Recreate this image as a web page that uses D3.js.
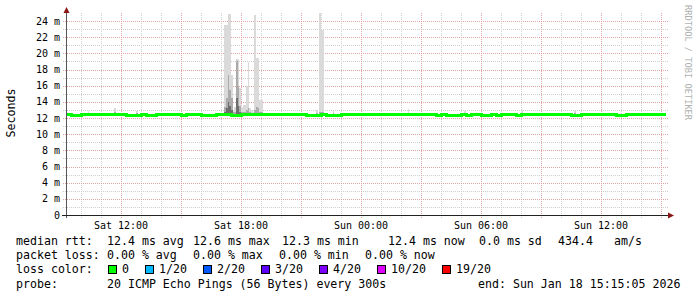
<!DOCTYPE html>
<html>
<head>
<meta charset="utf-8">
<script src="https://cdn.jsdelivr.net/npm/d3@7"></script>
<style>
  body { margin: 0; background: #fff; }
  text { font-family: "DejaVu Sans Mono", monospace; white-space: pre; }
</style>
</head>
<body>
<div id="chart"></div>
<script>
var width = 697,
    height = 297;

// plot box
var x0 = 66, x1 = 666, yTop = 13, yBot = 215;

var startTime = "2026-01-17 09:15";
var endTime = "2026-01-18 15:15";

// median rtt (ms), one value every 15 minutes from startTime
var medianStepMin = 15;
var medianValues = [
  12.4, 12.3, 12.3, 12.4, 12.4, 12.4, 12.4, 12.4, 12.4, 12.4, 12.4, 12.4,
  12.3, 12.3, 12.3, 12.4, 12.3, 12.3, 12.4, 12.4, 12.4, 12.4, 12.4, 12.3,
  12.5, 12.4, 12.4, 12.3, 12.3, 12.3, 12.4, 12.4, 12.4, 12.3, 12.3, 12.4,
  12.4, 12.4, 12.4, 12.4, 12.4, 12.4, 12.4, 12.4, 12.4, 12.4, 12.4, 12.4,
  12.3, 12.3, 12.3, 12.4, 12.3, 12.3, 12.3, 12.5, 12.4, 12.4, 12.4, 12.4,
  12.4, 12.4, 12.5, 12.4, 12.4, 12.4, 12.4, 12.4, 12.4, 12.4, 12.4, 12.4,
  12.4, 12.4, 12.3, 12.4, 12.3, 12.3, 12.3, 12.4, 12.3, 12.4, 12.5, 12.3,
  12.3, 12.4, 12.3, 12.4, 12.4, 12.4, 12.3, 12.4, 12.4, 12.4, 12.4, 12.4,
  12.4, 12.4, 12.4, 12.4, 12.4, 12.3, 12.3, 12.4, 12.4, 12.4, 12.4, 12.4,
  12.4, 12.4, 12.3, 12.3, 12.4, 12.4, 12.4, 12.4, 12.4, 12.4, 12.4, 12.4
];

// smoke (ping spread), 5 minute steps: time, outer max, mid band top, inner band top (ms)
var smokeStepMin = 5;
var smokeBase = 12.3;
var smokeTimes = [
  "2026-01-17 10:20", "2026-01-17 11:40", "2026-01-17 12:45",
  "2026-01-17 17:10", "2026-01-17 17:15", "2026-01-17 17:20", "2026-01-17 17:25", "2026-01-17 17:30",
  "2026-01-17 17:35", "2026-01-17 17:40", "2026-01-17 17:45", "2026-01-17 17:50",
  "2026-01-17 17:55", "2026-01-17 18:00", "2026-01-17 18:05", "2026-01-17 18:10",
  "2026-01-17 18:15", "2026-01-17 18:20", "2026-01-17 18:25", "2026-01-17 18:30",
  "2026-01-17 18:35", "2026-01-17 18:40", "2026-01-17 18:45", "2026-01-17 18:50",
  "2026-01-17 18:55", "2026-01-17 19:00",
  "2026-01-17 21:45", "2026-01-17 21:55", "2026-01-17 22:00", "2026-01-17 22:05",
  "2026-01-17 22:35", "2026-01-18 02:20", "2026-01-18 05:10", "2026-01-18 08:00",
  "2026-01-18 10:40"
];
var smokeMax = [
  12.9, 13.3, 12.9,
  23.5, 23.5, 24.9, 24.9, 17.3,
  13.0, 13.4, 19.3, 19.3,
  15.7, 13.4, 13.6, 13.6,
  16.0, 18.9, 13.2, 13.0,
  12.8, 24.8, 19.4, 19.4,
  14.2, 14.2,
  13.0, 25.0, 22.9, 22.9,
  12.9, 13.1, 12.9, 13.0,
  12.9
];
var smokeMid = [
  12.6, 12.7, 12.6,
  13.4, 14.5, 17.3, 15.5, 14.5,
  12.7, 12.8, 19.0, 16.0,
  13.5, 12.8, 12.8, 12.8,
  13.0, 13.2, 12.7, 12.6,
  12.6, 13.0, 13.4, 13.2,
  12.8, 12.7,
  12.6, 12.8, 12.7, 12.7,
  12.6, 12.6, 12.6, 12.6,
  12.6
];
var smokeLow = [
  12.5, 12.5, 12.5,
  12.8, 13.2, 14.0, 13.5, 13.0,
  12.5, 12.5, 14.5, 13.5,
  12.8, 12.5, 12.5, 12.5,
  12.6, 12.6, 12.5, 12.5,
  12.5, 12.6, 12.6, 12.6,
  12.5, 12.5,
  12.5, 12.5, 12.5, 12.5,
  12.5, 12.5, 12.5, 12.5,
  12.5
];

var yTicks = [0, 2, 4, 6, 8, 10, 12, 14, 16, 18, 20, 22, 24];

var lossLabels = ["0", "1/20", "2/20", "3/20", "4/20", "10/20", "19/20"];
var lossColors = ["#00ff00", "#00b8ff", "#0059ff", "#5e00ff", "#7e00ff", "#dd00ff", "#ff0000"];

var legendRows = [
  [["median rtt:", 16], ["12.4 ms avg", 107], ["12.6 ms max", 193], ["12.3 ms min", 282],
   ["12.4 ms now", 388], ["0.0 ms sd", 479], ["434.4", 558], ["am/s", 614]],
  [["packet loss:", 16], ["0.00 % avg", 107], ["0.00 % max", 193], ["0.00 % min", 279], ["0.00 % now", 365]],
  [["loss color:", 16]],
  [["probe:", 16], ["20 ICMP Echo Pings (56 Bytes) every 300s", 107], ["end: Sun Jan 18 15:15:05 2026", 478]]
];
var rowBase = [244.5, 259, 273.4, 287.8];

var parse = d3.utcParse("%Y-%m-%d %H:%M");
var t0 = parse(startTime), t1 = parse(endTime);

var x = d3.scaleUtc().domain([t0, t1]).range([x0, x1]);
var y = d3.scaleLinear().domain([0, 25]).range([yBot, yTop]);

var svg = d3.select("#chart").append("svg")
    .attr("width", width)
    .attr("height", height)
    .style("display", "block");

svg.append("rect").attr("width", width).attr("height", height).attr("fill", "#fff");

// grid
var grid = svg.append("g").attr("shape-rendering", "crispEdges");

var minorY = d3.range(1, 25, 2);
grid.selectAll(".hminor").data(minorY).enter().append("line")
    .attr("x1", x0 - 3).attr("x2", x1 + 3)
    .attr("y1", d => Math.round(y(d)) + 0.5).attr("y2", d => Math.round(y(d)) + 0.5)
    .attr("stroke", "#cfcfcf").attr("stroke-dasharray", "1,1");

var hours = d3.utcHour.every(1).range(t0, t1);
grid.selectAll(".vminor").data(hours.filter(d => d.getUTCHours() % 3 != 0)).enter().append("line")
    .attr("x1", d => Math.round(x(d)) + 0.5).attr("x2", d => Math.round(x(d)) + 0.5)
    .attr("y1", yTop).attr("y2", yBot + 3)
    .attr("stroke", "#cfcfcf").attr("stroke-dasharray", "1,1");

grid.selectAll(".hmajor").data(yTicks.filter(d => d > 0)).enter().append("line")
    .attr("x1", x0 - 3).attr("x2", x1 + 3)
    .attr("y1", d => Math.round(y(d)) + 0.5).attr("y2", d => Math.round(y(d)) + 0.5)
    .attr("stroke", "#e2a3a3").attr("stroke-dasharray", "1,1");

grid.selectAll(".vmajor").data(hours.filter(d => d.getUTCHours() % 3 == 0)).enter().append("line")
    .attr("x1", d => Math.round(x(d)) + 0.5).attr("x2", d => Math.round(x(d)) + 0.5)
    .attr("y1", yTop).attr("y2", yBot + 3)
    .attr("stroke", "#e2a3a3").attr("stroke-dasharray", "1,1");

// smoke
var smoke = svg.append("g").attr("shape-rendering", "crispEdges");
var shades = [[smokeMax, "#dadada"], [smokeMid, "#ababab"], [smokeLow, "#6e6e6e"]];
shades.forEach(function(s) {
  smoke.selectAll(null).data(smokeTimes).enter().append("rect")
      .attr("x", d => x(parse(d)))
      .attr("width", d => x(d3.utcMinute.offset(parse(d), smokeStepMin)) - x(parse(d)))
      .attr("y", (d, i) => y(s[0][i]))
      .attr("height", (d, i) => y(smokeBase) - y(s[0][i]))
      .attr("fill", s[1]);
});

// median line
var medianData = medianValues.map((v, i) => [d3.utcMinute.offset(t0, i * medianStepMin), v]);
medianData.push([t1, medianValues[medianValues.length - 1]]);
svg.append("path")
    .datum(medianData)
    .attr("fill", "none")
    .attr("stroke", lossColors[0])
    .attr("stroke-width", 3)
    .attr("shape-rendering", "crispEdges")
    .attr("d", d3.line().x(d => x(d[0])).y(d => y(d[1])).curve(d3.curveStepAfter));

// axes
svg.append("line").attr("x1", x0 + 0.5).attr("x2", x0 + 0.5).attr("y1", yBot + 3).attr("y2", 11)
    .attr("stroke", "#555").attr("shape-rendering", "crispEdges");
svg.append("line").attr("x1", x0 - 4).attr("x2", x1 + 3).attr("y1", yBot + 0.5).attr("y2", yBot + 0.5)
    .attr("stroke", "#222").attr("shape-rendering", "crispEdges");
svg.append("path").attr("d", "M" + (x0 + 0.5) + ",7 L" + (x0 - 2.5) + ",13 L" + (x0 + 3.5) + ",13 Z")
    .attr("fill", "#8c1414");
svg.append("path").attr("d", "M" + (x1 + 8) + "," + (yBot + 0.5) + " L" + (x1 + 2) + "," + (yBot - 2.5) + " L" + (x1 + 2) + "," + (yBot + 3.5) + " Z")
    .attr("fill", "#8c1414");

// y labels
svg.selectAll(".ylab").data(yTicks).enter().append("text")
    .attr("x", 60).attr("y", d => y(d) + 3.6)
    .attr("text-anchor", "end")
    .attr("font-size", "10px")
    .attr("fill", "#000")
    .text(d => d == 0 ? "0" : d + " m");

// x labels
var fmt = d3.utcFormat("%a %H:%M");
svg.selectAll(".xlab").data(d3.utcHour.every(6).range(t0, t1)).enter().append("text")
    .attr("x", d => x(d)).attr("y", 229)
    .attr("text-anchor", "middle")
    .attr("font-size", "10px")
    .attr("fill", "#000")
    .text(d => fmt(d));

// axis title
svg.append("text")
    .attr("transform", "translate(15,113) rotate(-90)")
    .attr("text-anchor", "middle")
    .attr("font-size", "11.6px")
    .text("Seconds");

// watermark
svg.append("text")
    .attr("transform", "translate(685,5) rotate(90)")
    .attr("font-size", "8.7px")
    .attr("fill", "#b0b0b0")
    .text("RRDTOOL / TOBI OETIKER");

// legend
legendRows.forEach(function(row, r) {
  row.forEach(function(item) {
    svg.append("text")
        .attr("x", item[1]).attr("y", rowBase[r])
        .attr("font-size", "11.6px")
        .text(item[0]);
  });
});

var lx = 108;
lossLabels.forEach(function(lab, i) {
  svg.append("rect")
      .attr("x", lx + 0.5).attr("y", 265.5).attr("width", 8).attr("height", 8)
      .attr("fill", lossColors[i]).attr("stroke", "#000")
      .attr("shape-rendering", "crispEdges");
  svg.append("text")
      .attr("x", lx + 14).attr("y", rowBase[2])
      .attr("font-size", "11.6px")
      .text(lab);
  lx += 14 + lab.length * 7 + 16;
});
</script>
</body>
</html>
